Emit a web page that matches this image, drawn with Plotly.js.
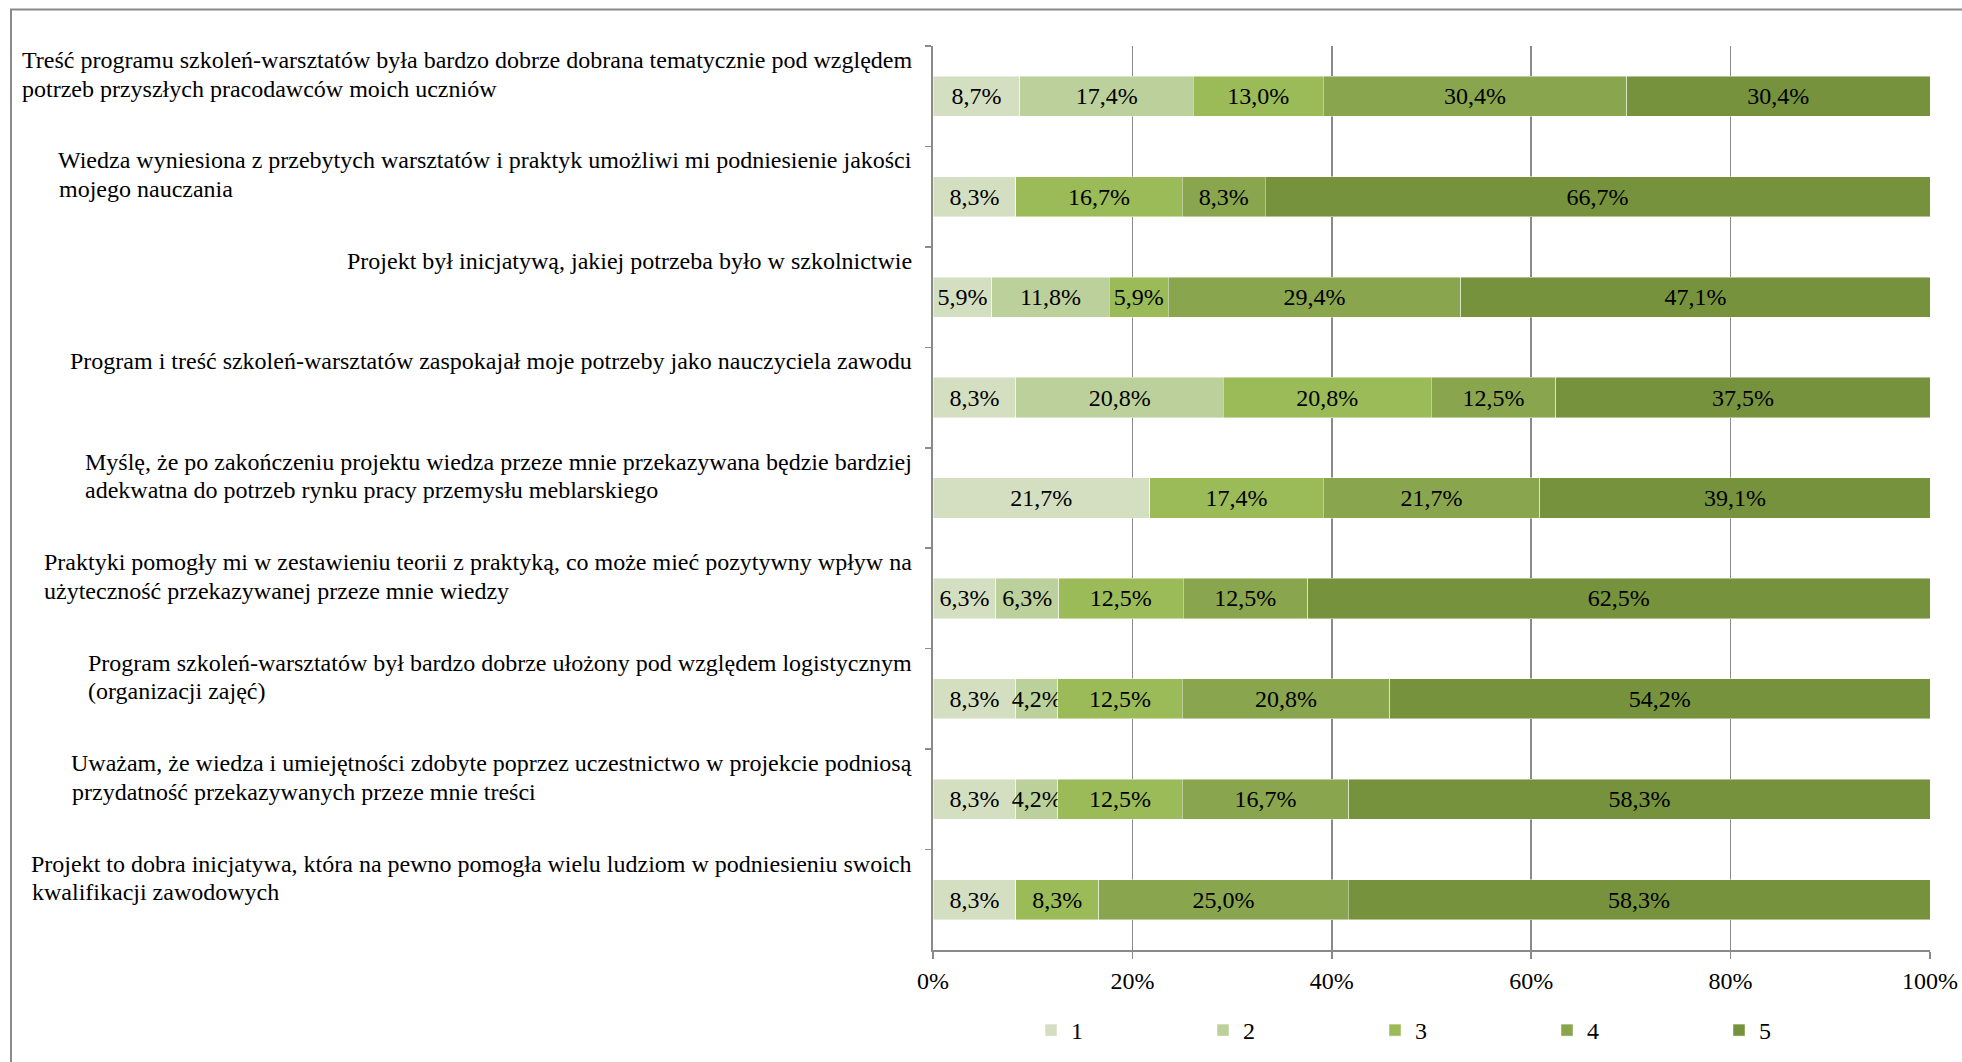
<!DOCTYPE html>
<html>
<head>
<meta charset="utf-8">
<script src="https://cdn.plot.ly/plotly-3.0.1.min.js"></script>
<style>html,body{margin:0;padding:0;background:#fff;}#chart{width:1962px;height:1062px;}</style>
</head>
<body>
<div id="chart"></div>
<script>
// Category labels (statements), with the reference's line breaks
const statements = [
  "Treść programu szkoleń-warsztatów była bardzo dobrze dobrana tematycznie pod względem<br>potrzeb przyszłych pracodawców moich uczniów",
  "Wiedza wyniesiona z przebytych warsztatów i praktyk umożliwi mi podniesienie jakości<br>mojego nauczania",
  "Projekt był inicjatywą, jakiej potrzeba było w szkolnictwie",
  "Program i treść szkoleń-warsztatów zaspokajał moje potrzeby jako nauczyciela zawodu",
  "Myślę, że po zakończeniu projektu wiedza przeze mnie przekazywana będzie bardziej<br>adekwatna do potrzeb rynku pracy przemysłu meblarskiego",
  "Praktyki pomogły mi w zestawieniu teorii z praktyką, co może mieć pozytywny wpływ na<br>użyteczność przekazywanej przeze mnie wiedzy",
  "Program szkoleń-warsztatów był bardzo dobrze ułożony pod względem logistycznym<br>(organizacji zajęć)",
  "Uważam, że wiedza i umiejętności zdobyte poprzez uczestnictwo w projekcie podniosą<br>przydatność przekazywanych przeze mnie treści",
  "Projekt to dobra inicjatywa, która na pewno pomogła wielu ludziom w podniesieniu swoich<br>kwalifikacji zawodowych"
];

// Series: share of answers per score (percent)
const seriesNames = ["1", "2", "3", "4", "5"];
const score1 = [8.7, 8.3, 5.9, 8.3, 21.7, 6.3, 8.3, 8.3, 8.3];
const score2 = [17.4, 0, 11.8, 20.8, 0, 6.3, 4.2, 4.2, 0];
const score3 = [13.0, 16.7, 5.9, 20.8, 17.4, 12.5, 12.5, 12.5, 8.3];
const score4 = [30.4, 8.3, 29.4, 12.5, 21.7, 12.5, 20.8, 16.7, 25.0];
const score5 = [30.4, 66.7, 47.1, 37.5, 39.1, 62.5, 54.2, 58.3, 58.3];

const xTickVals = [0, 20, 40, 60, 80, 100];
const xTickText = ["0%", "20%", "40%", "60%", "80%", "100%"];

const colors = ["#d3dfc0", "#bcd09b", "#9bbb59", "#89a54e", "#76923c"];
const FONT = "Liberation Serif, Times New Roman, serif";

const cats = statements.map(s => s.replace("<br>", " "));
const allSeries = [score1, score2, score3, score4, score5];

const fmt = v => v > 0 ? v.toFixed(1).replace(".", ",") + "%" : "";

const traces = allSeries.map((vals, i) => ({
  type: "bar",
  orientation: "h",
  name: seriesNames[i],
  y: cats,
  x: vals,
  text: vals.map(fmt),
  textposition: "inside",
  insidetextanchor: "middle",
  textangle: 0,
  constraintext: "none",
  cliponaxis: false,
  textfont: {family: FONT, size: 24, color: "#000"},
  marker: {color: colors[i], line: {color: "rgba(255,255,255,0.6)", width: 0.75}},
  hoverinfo: "skip"
}));

// Layout geometry (pixels)
const W = 1962, H = 1062;
const mL = 933, mR = 32, mT = 45.5, mB = 112;
const pw = W - mL - mR, ph = H - mT - mB;
const px2x = p => (p - mL) / pw;
const py2y = p => (H - mB - p) / ph;

// measure text width to left-align the second line under the first
const ctx = document.createElement("canvas").getContext("2d");
ctx.font = '24px "Liberation Serif", "Times New Roman", serif';
const LABEL_SHIFT = -19.5, LINE_GAP = 28.5;

const annotations = [];
statements.forEach((s, i) => {
  const lines = s.split("<br>");
  const base = {
    xref: "paper", yref: "y", x: 0, y: i - 0.5,
    yanchor: "top", showarrow: false,
    font: {family: FONT, size: 24, color: "#000"}
  };
  annotations.push(Object.assign({}, base, {
    text: lines[0], xanchor: "right", xshift: LABEL_SHIFT, yshift: 1
  }));
  if (lines.length > 1) {
    const w = ctx.measureText(lines[0]).width;
    annotations.push(Object.assign({}, base, {
      text: lines[1], xanchor: "left", align: "left",
      xshift: LABEL_SHIFT - w - 3.5, yshift: 1 - LINE_GAP
    }));
  }
});

const layout = {
  width: W, height: H,
  margin: {l: mL, r: mR, t: mT, b: mB, pad: 0, autoexpand: false},
  paper_bgcolor: "#fff", plot_bgcolor: "#fff",
  barmode: "stack",
  barnorm: "percent",
  bargap: 0.6,
  showlegend: true,
  font: {family: FONT, size: 24, color: "#000"},
  xaxis: {
    range: [0, 100],
    autorange: false,
    tickvals: xTickVals,
    ticktext: xTickText,
    showgrid: true, gridcolor: "#8a8a8a", gridwidth: 1.5,
    zeroline: false,
    showline: true, linecolor: "#8a8a8a", linewidth: 2,
    ticks: "outside", ticklen: 7, tickcolor: "#8a8a8a", tickwidth: 1.5,
    ticklabelstandoff: 1,
    tickfont: {family: FONT, size: 24, color: "#000"},
    automargin: false,
    fixedrange: true
  },
  yaxis: {
    type: "category",
    categoryorder: "array",
    categoryarray: cats,
    range: [cats.length - 0.5, -0.5],
    autorange: false,
    showticklabels: false,
    showgrid: false, zeroline: false,
    showline: true, linecolor: "#8a8a8a", linewidth: 2,
    ticks: "outside", tickson: "boundaries", ticklen: 6, tickcolor: "#8a8a8a", tickwidth: 1.5,
    automargin: false,
    fixedrange: true
  },
  legend: {
    orientation: "h",
    xref: "container", yref: "container",
    x: 1031 / W, xanchor: "left",
    y: (H - 1030.5) / H, yanchor: "middle",
    entrywidth: 127, entrywidthmode: "pixels",
    traceorder: "normal",
    font: {family: FONT, size: 24, color: "#000"},
    bgcolor: "rgba(0,0,0,0)"
  },
  annotations: annotations,
  shapes: [{
    type: "rect", xref: "paper", yref: "paper",
    x0: px2x(11), x1: px2x(W + 20),
    y0: py2y(H + 20), y1: py2y(9),
    line: {color: "#8a8a8a", width: 2},
    fillcolor: "rgba(0,0,0,0)",
    layer: "below"
  }]
};

Plotly.newPlot("chart", traces, layout, {displayModeBar: false, staticPlot: true});
</script>
</body>
</html>
